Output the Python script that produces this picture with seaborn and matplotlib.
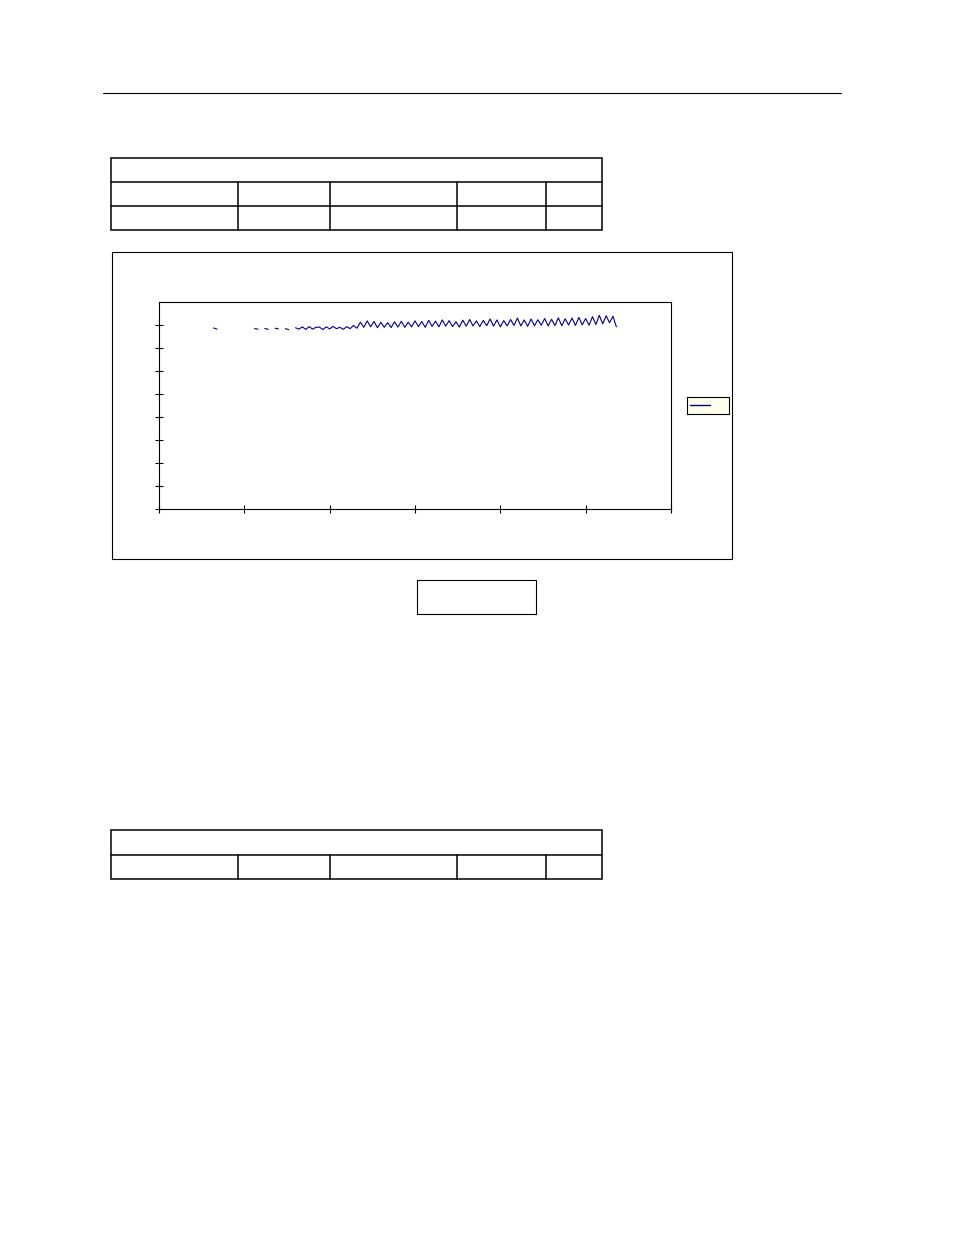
import numpy as np
import pandas as pd
import matplotlib
matplotlib.use("Agg")
import matplotlib.pyplot as plt
from matplotlib.lines import Line2D
from matplotlib.patches import Rectangle
import seaborn as sns

# series values, one sample every 2 units starting at x=32 (nan = missing reading)
x_start = 32
x_step = 2
series_y = [
    7.87, 7.82, np.nan, np.nan, np.nan, np.nan, np.nan, np.nan, np.nan, np.nan,
    np.nan, np.nan, 7.84, 7.82, np.nan, 7.85, 7.81, np.nan, 7.86, 7.83,
    np.nan, 7.84, 7.80, np.nan, 7.88, 7.82, 7.92, 7.81, 7.93, 7.82,
    7.90, 7.91, 7.80, 7.92, 7.83, 7.94, 7.84, 7.90, 7.81, 7.93,
    7.84, 7.98, 7.86, 8.12, 7.90, 8.18, 7.92, 8.15, 7.88, 8.12,
    7.90, 8.10, 7.89, 8.14, 7.91, 8.16, 7.90, 8.12, 7.92, 8.18,
    7.93, 8.15, 7.90, 8.20, 7.94, 8.17, 7.92, 8.22, 7.95, 8.19,
    7.93, 8.14, 7.91, 8.21, 7.95, 8.24, 7.96, 8.18, 7.93, 8.20,
    7.97, 8.26, 7.95, 8.22, 7.92, 8.19, 7.96, 8.24, 7.98, 8.30,
    7.96, 8.22, 7.94, 8.26, 7.97, 8.23, 7.99, 8.28, 7.96, 8.25,
    7.98, 8.31, 7.97, 8.27, 8.00, 8.30, 7.98, 8.33, 8.01, 8.28,
    7.99, 8.36, 8.02, 8.42, 8.05, 8.40, 8.10, 8.38, 7.92,
]
x_ticks = [0, 50, 100, 150, 200, 250, 300]
y_ticks = [0, 1, 2, 3, 4, 5, 6, 7, 8]
series_name = ""

W, H = 954, 1235
navy = "#000080"

df = pd.DataFrame({"y": series_y})
df["x"] = x_start + x_step * np.arange(len(df))
# split into runs so gaps stay gaps
df["seg"] = df["y"].isna().cumsum()
df = df.dropna()

sns.set_style("white")
fig = plt.figure(figsize=(W / 100, H / 100), dpi=100)

# page layer in pixel coordinates
page = fig.add_axes([0, 0, 1, 1])
page.set_xlim(0, W)
page.set_ylim(H, 0)
page.axis("off")

page.plot([103, 841], [92.5, 92.5], color="black", lw=0.8)

def table(top, row_h, nrows):
    cols = [111, 238, 330, 457, 546, 602]
    bottom = top + row_h * nrows
    page.add_patch(Rectangle((111, top), 602 - 111, bottom - top,
                             fill=False, ec="black", lw=1.1))
    for r in range(1, nrows):
        page.plot([111, 602], [top + r * row_h] * 2, color="black", lw=1.1)
    for c in cols[1:-1]:
        page.plot([c, c], [top + row_h, bottom], color="black", lw=1.1)

table(158, 24, 3)
table(830, 24.5, 2)

# chart frame and caption box
page.add_patch(Rectangle((112.5, 251.5), 620, 307.5, fill=False, ec="black", lw=0.8))
page.add_patch(Rectangle((417.5, 579.5), 119, 34.5, fill=False, ec="black", lw=0.8))

# plot area
ax = fig.add_axes([159 / W, 1 - 509 / H, (671 - 159) / W, (509 - 302) / H])
sns.lineplot(data=df, x="x", y="y", units="seg", estimator=None,
             color=navy, lw=0.8, ax=ax, legend=False)
ax.set_xlim(0, 300)
ax.set_ylim(0, 9)
ax.set_xticks(x_ticks)
ax.set_yticks(y_ticks)
ax.set_xticklabels([])
ax.set_yticklabels([])
ax.set_xlabel("")
ax.set_ylabel("")
ax.tick_params(direction="inout", length=6, width=0.8, color="black",
               bottom=True, left=True)
for sp in ax.spines.values():
    sp.set_visible(True)
    sp.set_color("black")
    sp.set_linewidth(0.8)

leg = ax.legend(handles=[Line2D([], [], color=navy, lw=1)], labels=[series_name],
                loc="center left", bbox_to_anchor=(687 / W, 1 - 405.5 / H),
                bbox_transform=fig.transFigure, frameon=True, fancybox=False,
                facecolor="#FFFFEC", edgecolor="black", framealpha=1,
                fontsize=7, handlelength=2.0, borderpad=0.35,
                handletextpad=1.6, borderaxespad=0)
leg.get_frame().set_linewidth(0.8)

fig.savefig("out.png", dpi=100, facecolor="white")
